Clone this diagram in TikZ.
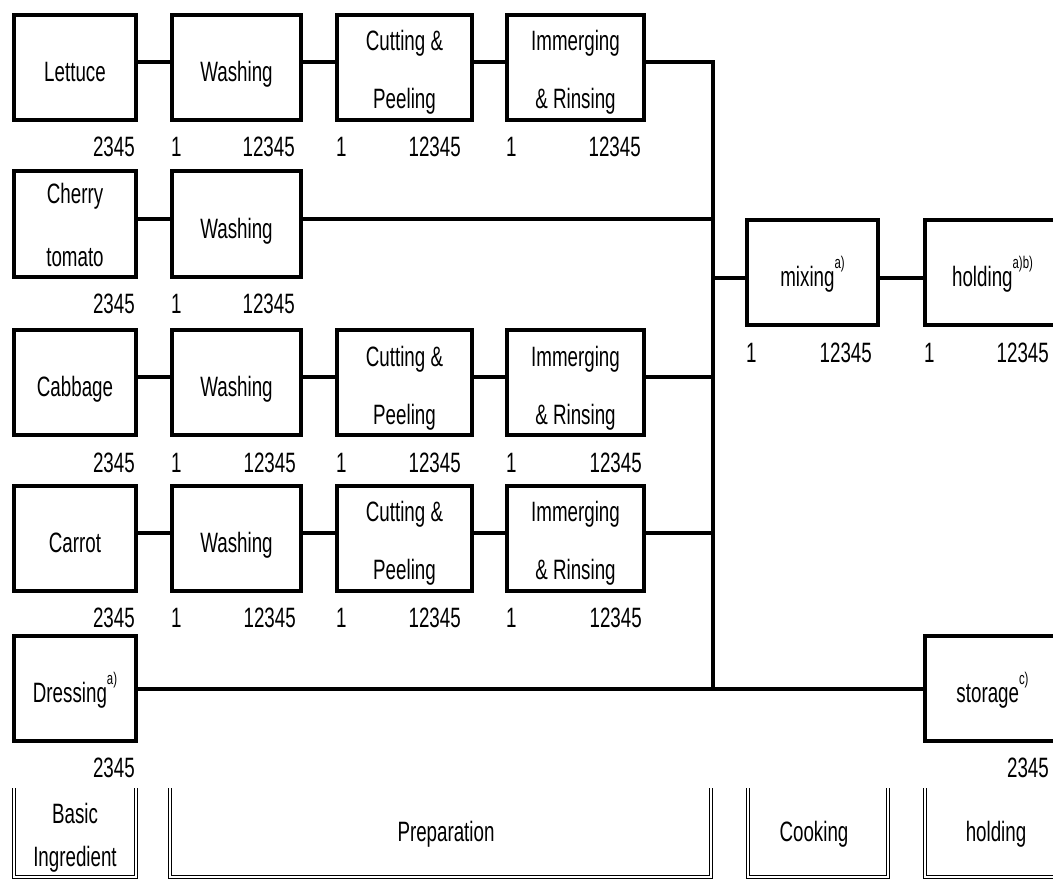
\documentclass[tikz,border=0pt]{standalone}
\usepackage{fontspec}
\setmainfont[FakeStretch=0.67]{Liberation Sans}
\newcommand\supmark[1]{\raisebox{18pt}{\fontsize{17}{17}\selectfont #1}}
\newcommand\bx[1]{\begin{tabular}[t]{@{}c@{}}#1\end{tabular}}
\begin{document}
\begin{tikzpicture}[x=1pt,y=-1pt,
  box/.style={draw, line width=4pt, minimum width=#1, minimum height=105pt,
    inner sep=0pt, font=\fontsize{28}{58}\selectfont,
    text height=28pt, text depth=0pt},
  box/.default=131pt,
  two/.style={text height=0pt, text depth=#1},
  two/.default=33pt,
  conn/.style={line width=4pt},
  num/.style={inner sep=0pt, font=\fontsize{28}{30}\selectfont},
  brk/.style={double, line width=1.5pt, double distance=1.5pt},
  brklabel/.style={align=center, inner sep=0pt, font=\fontsize{28}{43}\selectfont}]
\useasboundingbox (0,0) rectangle (1053,880);
\clip (0,0) rectangle (1053,880);

% junctions on the bus
\coordinate (j1) at (713,62);
\coordinate (j2) at (713,219);
\coordinate (j3) at (713,377);
\coordinate (j4) at (713,533);
\coordinate (j5) at (713,689);
\coordinate (j6) at (713,278);

% row 1
\node[box=122pt] (let) at (75,67.5) {Lettuce};
\node[box=129pt] (w1) at (236.5,67.5) {Washing};
\node[box=135pt, two] (c1) at (404.5,67.5) {\bx{Cutting \&\\Peeling}};
\node[box=137pt, two] (i1) at (575.5,67.5) {\bx{Immerging\\\& Rinsing}};
% row 2
\node[box=122pt, two=40pt, font=\fontsize{28}{63}\selectfont] (cher) at (75,224) {\bx{Cherry\\tomato}};
\node[box=129pt] (w2) at (236.5,224) {Washing};
% row 3
\node[box=122pt] (cab) at (75,382.5) {Cabbage};
\node[box=129pt] (w3) at (236.5,382.5) {Washing};
\node[box=135pt, two] (c3) at (404.5,382.5) {\bx{Cutting \&\\Peeling}};
\node[box=137pt, two] (i3) at (575.5,382.5) {\bx{Immerging\\\& Rinsing}};
% row 4
\node[box=122pt] (car) at (75,538) {Carrot};
\node[box=129pt] (w4) at (236.5,538) {Washing};
\node[box=135pt, two] (c4) at (404.5,538) {\bx{Cutting \&\\Peeling}};
\node[box=137pt, two] (i4) at (575.5,538) {\bx{Immerging\\\& Rinsing}};
% row 5
\node[box=122pt] (dre) at (75,688) {Dressing\supmark{a)}};
\node[box=135pt] (sto) at (992.5,688) {storage\supmark{c)}};
% cooking / holding
\node[box=131pt] (mix) at (812.5,272.5) {mixing\supmark{a)}};
\node[box=135pt] (hold) at (992.5,272.5) {holding\supmark{a)b)}};

% connectors
\draw[conn] (let.east |- j1) -- (w1.west |- j1);
\draw[conn] (w1.east |- j1) -- (c1.west |- j1);
\draw[conn] (c1.east |- j1) -- (i1.west |- j1);
\draw[conn] (i1.east |- j1) -- (j1) -- (j5);
\draw[conn] (cher.east |- j2) -- (w2.west |- j2);
\draw[conn] (w2.east |- j2) -- (j2);
\draw[conn] (cab.east |- j3) -- (w3.west |- j3);
\draw[conn] (w3.east |- j3) -- (c3.west |- j3);
\draw[conn] (c3.east |- j3) -- (i3.west |- j3);
\draw[conn] (i3.east |- j3) -- (j3);
\draw[conn] (car.east |- j4) -- (w4.west |- j4);
\draw[conn] (w4.east |- j4) -- (c4.west |- j4);
\draw[conn] (c4.east |- j4) -- (i4.west |- j4);
\draw[conn] (i4.east |- j4) -- (j4);
\draw[conn] (dre.east |- j5) -- (sto.west |- j5);
\draw[conn] (j6) -- (mix.west |- j6);
\draw[conn] (mix.east |- j6) -- (hold.west |- j6);

% numbers
\foreach \b in {let,cher,cab,car,dre}{
  \node[num, anchor=base east] (n2\b) at ([xshift=-3pt,yshift=-35pt]\b.south east) {2345};
}
\foreach \b/\r in {w1/-8,w2/-8,w3/-7,w4/-7,c1/-13,c3/-13,c4/-13,i1/-5,i3/-4,i4/-4,mix/-8,hold/-13}{
  \node[num, anchor=base west] (na\b) at ([xshift=1pt,yshift=-35pt]\b.south west) {1};
  \node[num, anchor=base east] (nb\b) at ([xshift=\r pt,yshift=-35pt]\b.south east) {12345};
}
\node[num, anchor=base east] (nsto) at ([xshift=-13pt,yshift=-35pt]sto.south east) {2345};

% stage brackets
\draw[brk] (14,788) -- (14,877) -- (136,877) -- (136,788);
\draw[brk] (170,788) -- (170,877) -- (711,877) -- (711,788);
\draw[brk] (748,788) -- (748,877) -- (888,877) -- (888,788);
\draw[brk] (925,788) -- (925,877) -- (1070,877);
\node[brklabel] (sBasic) at (75,838) {Basic\\Ingredient};
\node[brklabel] (sPrep) at (446,834) {Preparation};
\node[brklabel] (sCook) at (814,834) {Cooking};
\node[brklabel] (sHold) at (996,834) {holding};
\end{tikzpicture}
\end{document}
